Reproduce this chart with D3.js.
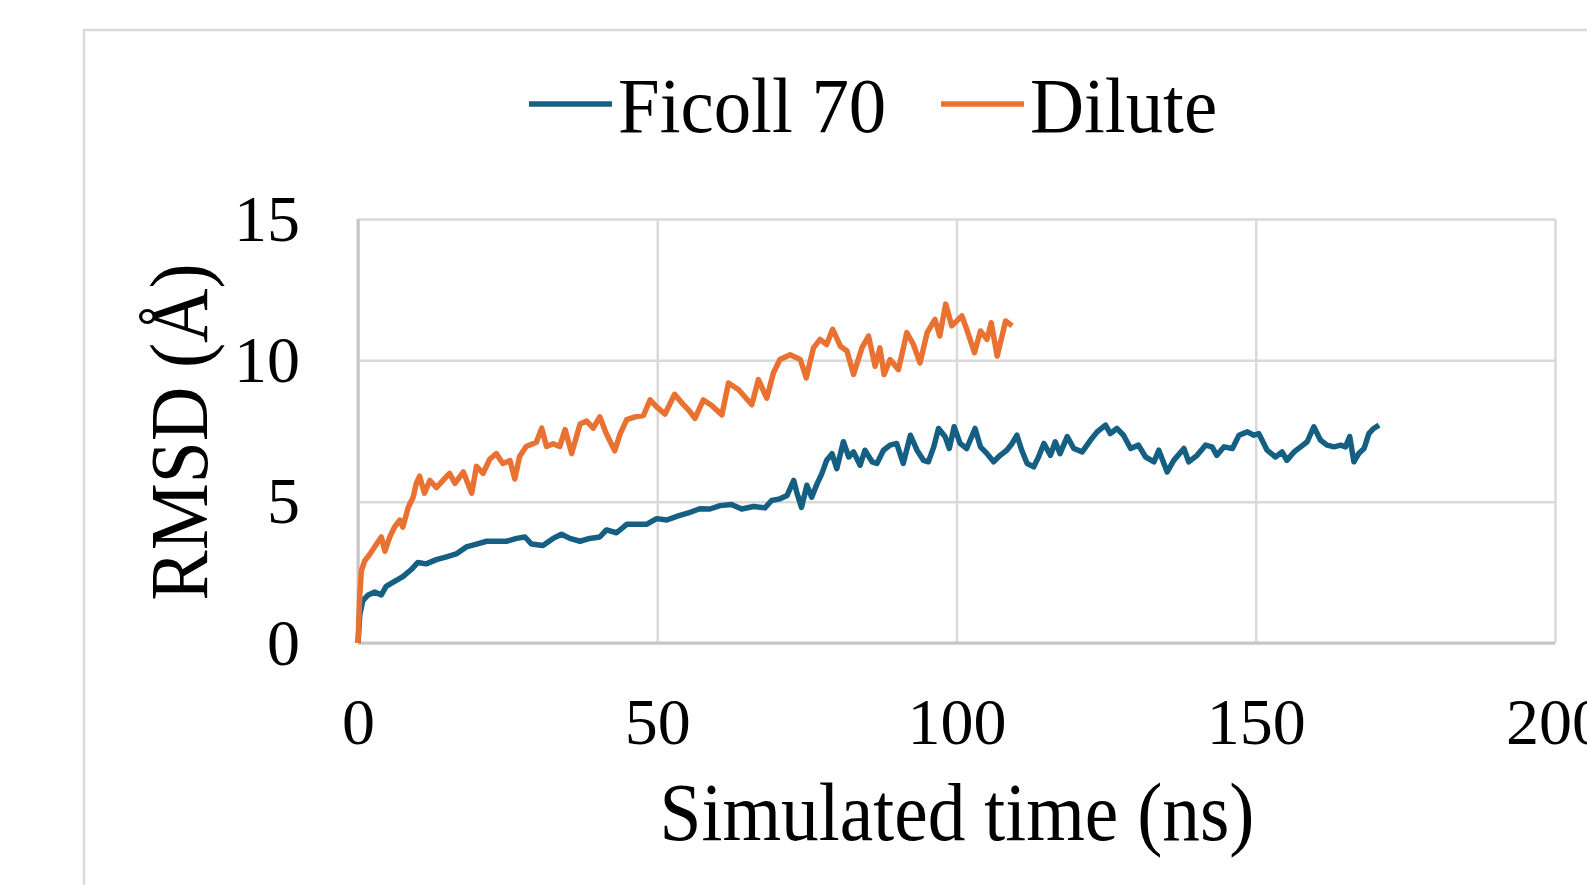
<!DOCTYPE html>
<html>
<head>
<meta charset="utf-8">
<script src="https://d3js.org/d3.v7.min.js"></script>
<style>
  body { margin: 0; background: #fff; }
  text { font-family: "Liberation Serif", "Times New Roman", serif; fill: #000; }
  .grid line { stroke: #d9d9d9; stroke-width: 2.5; }
  .grid path { display: none; }
  .tick text { font-size: 66px; }
  .series { fill: none; stroke-width: 5.5; stroke-linejoin: round; }
</style>
</head>
<body>
<script>
// Ficoll 70 (blue)
var ficollTime = [0, 0.3, 0.8, 1.7, 2.8, 3.9, 4.7, 5.9, 7.5, 8.9, 10.0, 11.4, 13.1, 14.8, 16.4, 18.1, 19.8, 21.5, 23.1, 24.8,
  26.5, 27.9, 29.0, 30.9, 32.6, 34.0, 35.4, 37.1, 38.7, 40.4, 41.5, 43.2, 44.9, 46.5, 48.2, 49.9, 51.6, 53.5, 55.2, 57.1,
  58.8, 60.5, 62.4, 64.1, 66.1, 68.0, 69.1, 70.5, 71.7, 72.8, 73.3, 74.1, 75.0, 75.8, 76.7, 77.5, 78.3, 79.2, 80.0, 81.1,
  82.0, 82.8, 83.9, 84.7, 85.9, 86.7, 87.8, 88.9, 90.0, 91.1, 92.3, 93.4, 94.5, 95.3, 96.2, 97.0, 98.1, 98.8, 99.6, 100.6,
  101.7, 103.1, 104.0, 105.1, 106.2, 107.3, 108.4, 109.3, 110.1, 110.9, 111.8, 112.9, 113.7, 114.6, 115.7, 116.5, 117.3, 118.5, 119.6, 121.0,
  122.4, 123.5, 124.9, 125.7, 126.8, 127.9, 129.1, 130.4, 131.6, 133.0, 133.8, 135.2, 136.3, 138.0, 138.8, 140.2, 141.6, 142.7, 143.5, 144.7,
  146.1, 147.2, 148.6, 149.7, 150.5, 151.9, 153.3, 154.4, 155.2, 156.4, 157.5, 158.6, 159.7, 160.8, 161.9, 163.1, 164.2, 165.0, 165.7, 166.4,
  167.2, 168.1, 168.9, 169.7, 170.6];
var ficollRmsd = [0, 1.0, 1.5, 1.7, 1.8, 1.7, 2.0, 2.15, 2.35, 2.6, 2.85, 2.8, 2.95, 3.05, 3.15, 3.4, 3.5, 3.6, 3.6, 3.6,
  3.7, 3.75, 3.5, 3.45, 3.7, 3.85, 3.7, 3.6, 3.7, 3.75, 4.0, 3.9, 4.2, 4.2, 4.2, 4.4, 4.35, 4.5, 4.6, 4.75,
  4.74, 4.86, 4.9, 4.74, 4.83, 4.78, 5.04, 5.1, 5.22, 5.75, 5.34, 4.8, 5.58, 5.16, 5.63, 5.99, 6.46, 6.7, 6.17, 7.12,
  6.58, 6.76, 6.29, 6.82, 6.41, 6.35, 6.82, 7.0, 7.06, 6.35, 7.35, 6.82, 6.46, 6.41, 6.94, 7.59, 7.3, 6.88, 7.65, 7.06,
  6.88, 7.59, 6.94, 6.7, 6.41, 6.64, 6.82, 7.06, 7.35, 6.82, 6.35, 6.23, 6.58, 7.06, 6.64, 7.12, 6.7, 7.3, 6.88, 6.76,
  7.18, 7.47, 7.71, 7.41, 7.59, 7.35, 6.88, 7.0, 6.58, 6.41, 6.82, 6.05, 6.46, 6.88, 6.41, 6.64, 7.0, 6.94, 6.64, 6.94,
  6.88, 7.35, 7.47, 7.35, 7.41, 6.82, 6.58, 6.76, 6.46, 6.76, 6.94, 7.12, 7.65, 7.18, 7.0, 6.94, 7.0, 6.94, 7.3, 6.41,
  6.7, 6.88, 7.41, 7.59, 7.71];

// Dilute (orange)
var diluteTime = [0, 0.3, 0.56, 1.1, 2.0, 3.1, 3.9, 4.5, 5.3, 6.1, 7.0, 7.5, 8.4, 9.2, 9.75, 10.3, 11.1, 12.0, 13.1, 14.2,
  15.3, 16.2, 17.6, 19.0, 19.8, 20.9, 22.0, 23.1, 24.2, 25.4, 26.2, 27.0, 28.1, 29.8, 30.7, 31.5, 32.6, 33.7, 34.6, 35.7,
  37.1, 38.2, 39.3, 40.4, 41.5, 42.9, 43.8, 44.9, 46.3, 47.7, 48.8, 49.9, 51.3, 52.9, 54.3, 55.4, 56.3, 57.7, 59.1, 60.8,
  61.9, 63.6, 65.8, 66.9, 68.3, 69.4, 70.5, 72.2, 73.9, 74.9, 76.1, 77.2, 78.3, 79.3, 80.6, 81.7, 82.8, 84.2, 85.3, 86.4,
  87.2, 87.9, 88.9, 90.3, 91.7, 92.8, 93.9, 95.1, 96.4, 97.2, 98.2, 99.2, 100.9, 101.7, 103.0, 104.0, 105.1, 105.8, 106.8, 108.2,
  109.3];
var diluteRmsd = [0, 1.7, 2.55, 2.9, 3.15, 3.5, 3.75, 3.25, 3.75, 4.1, 4.35, 4.1, 4.8, 5.15, 5.65, 5.9, 5.3, 5.75, 5.5, 5.75,
  6.0, 5.65, 6.05, 5.3, 6.25, 6.0, 6.5, 6.7, 6.35, 6.45, 5.8, 6.6, 6.95, 7.1, 7.6, 6.95, 7.05, 6.95, 7.55, 6.7,
  7.75, 7.85, 7.6, 8.0, 7.4, 6.8, 7.4, 7.9, 8.0, 8.05, 8.6, 8.35, 8.1, 8.8, 8.45, 8.2, 7.95, 8.6, 8.4, 8.07,
  9.2, 8.96, 8.43, 9.32, 8.66, 9.55, 10.03, 10.2, 10.03, 9.38, 10.44, 10.74, 10.56, 11.1, 10.5, 10.33, 9.5, 10.44, 10.86, 9.79,
  10.44, 9.5, 10.03, 9.67, 10.98, 10.56, 9.91, 10.98, 11.45, 10.86, 11.99, 11.22, 11.57, 11.1, 10.27, 11.04, 10.74, 11.33, 10.15, 11.39,
  11.22];

var seriesNames = ["Ficoll 70", "Dilute"];
var seriesColors = ["#156082", "#E97132"];
var xTicks = [0, 50, 100, 150, 200];
var yTicks = [0, 5, 10, 15];
var xTitle = "Simulated time (ns)";
var yTitle = "RMSD (Å)";

var W = 1587, H = 885;
var plot = {left: 358, right: 1555, top: 219, bottom: 643};

var svg = d3.select("body").append("svg")
    .attr("width", W)
    .attr("height", H);

// outer chart frame (runs off the page right and bottom)
svg.append("rect")
    .attr("x", 84).attr("y", 30)
    .attr("width", 1700).attr("height", 1000)
    .attr("fill", "#fff")
    .attr("stroke", "#d9d9d9")
    .attr("stroke-width", 2.5);

var x = d3.scaleLinear().domain([0, 200]).range([plot.left, plot.right]);
var y = d3.scaleLinear().domain([0, 15]).range([plot.bottom, plot.top]);

// vertical grid + x labels
svg.append("g")
    .attr("class", "grid x")
    .attr("transform", "translate(0," + plot.bottom + ")")
    .call(d3.axisBottom(x).tickValues(xTicks).tickSize(-(plot.bottom - plot.top)).tickPadding(54))
    .call(function(g) { g.selectAll("text").attr("font-family", null).attr("font-size", null); });

// horizontal grid + y labels
svg.append("g")
    .attr("class", "grid y")
    .attr("transform", "translate(" + plot.left + ",0)")
    .call(d3.axisLeft(y).tickValues(yTicks).tickSize(-(plot.right - plot.left)).tickPadding(58))
    .call(function(g) { g.selectAll("text").attr("font-family", null).attr("font-size", null); });

// axis lines, a bit darker than the grid
svg.append("line")
    .attr("x1", plot.left).attr("x2", plot.right)
    .attr("y1", plot.bottom).attr("y2", plot.bottom)
    .attr("stroke", "#c6c6c6").attr("stroke-width", 3);
svg.append("line")
    .attr("x1", plot.left).attr("x2", plot.left)
    .attr("y1", plot.top).attr("y2", plot.bottom)
    .attr("stroke", "#c6c6c6").attr("stroke-width", 3);

var line = d3.line()
    .x(function(d) { return x(d[0]); })
    .y(function(d) { return y(d[1]); });

var ficoll = d3.zip(ficollTime, ficollRmsd);
var dilute = d3.zip(diluteTime, diluteRmsd);

svg.append("path")
    .datum(ficoll)
    .attr("class", "series")
    .attr("stroke", seriesColors[0])
    .attr("d", line);

svg.append("path")
    .datum(dilute)
    .attr("class", "series")
    .attr("stroke", seriesColors[1])
    .attr("d", line);

// axis titles (the original type is a little condensed)
svg.append("text")
    .attr("transform", "translate(957,840) scale(0.92,1)")
    .attr("text-anchor", "middle")
    .attr("font-size", 82)
    .text(xTitle);

svg.append("text")
    .attr("transform", "translate(207,432) rotate(-90) scale(0.92,1)")
    .attr("text-anchor", "middle")
    .attr("font-size", 82)
    .text(yTitle);

// legend
var legendX = [529, 941];
var leg = svg.append("g").selectAll("g")
    .data(seriesNames)
    .enter().append("g")
    .attr("transform", function(d, i) { return "translate(" + legendX[i] + ",0)"; });

leg.append("line")
    .attr("x1", 0).attr("x2", 83)
    .attr("y1", 104).attr("y2", 104)
    .attr("stroke", function(d, i) { return seriesColors[i]; })
    .attr("stroke-width", 5.5);

leg.append("text")
    .attr("transform", "translate(89,131.5) scale(0.96,1)")
    .attr("font-size", 78)
    .text(function(d) { return d; });
</script>
</body>
</html>
